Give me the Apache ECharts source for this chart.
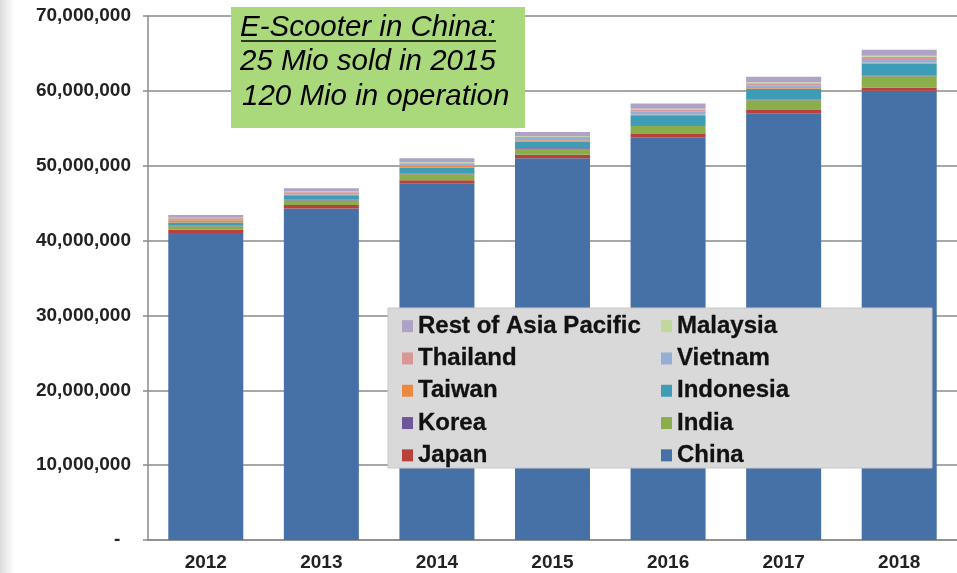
<!DOCTYPE html>
<html>
<head>
<meta charset="utf-8">
<script src="https://cdn.jsdelivr.net/npm/echarts@6/dist/echarts.min.js"></script>
<style>
html,body{margin:0;padding:0;background:#fff;}
#c{width:957px;height:573px;}
</style>
</head>
<body>
<div id="c"></div>
<script>
// Values in millions of units
const years = ['2012', '2013', '2014', '2015', '2016', '2017', '2018'];
const china     = [41.0, 44.3, 47.6, 51.0, 53.8, 57.0, 60.0];
const japan     = [0.45, 0.45, 0.45, 0.45, 0.45, 0.45, 0.45];
const india     = [0.45, 0.60, 0.80, 0.80, 1.10, 1.30, 1.50];
const korea     = [0.10, 0.10, 0.10, 0.10, 0.10, 0.10, 0.10];
const indonesia = [0.40, 0.50, 0.80, 0.90, 1.20, 1.40, 1.60];
const taiwan    = [0.30, 0.20, 0.20, 0.15, 0.15, 0.10, 0.10];
const vietnam   = [0.20, 0.25, 0.30, 0.30, 0.40, 0.40, 0.50];
const thailand  = [0.10, 0.10, 0.10, 0.15, 0.25, 0.25, 0.30];
const malaysia  = [0.05, 0.05, 0.10, 0.10, 0.15, 0.15, 0.15];
const restAP    = [0.35, 0.45, 0.55, 0.55, 0.70, 0.75, 0.80];
const yTicks = [0, 10, 20, 30, 40, 50, 60, 70];

const seriesDefs = [
  ['China', china, '#4571a7'],
  ['Japan', japan, '#b8413e'],
  ['India', india, '#8bae4d'],
  ['Korea', korea, '#6f5599'],
  ['Indonesia', indonesia, '#3f9cb6'],
  ['Taiwan', taiwan, '#e98a40'],
  ['Vietnam', vietnam, '#94afd3'],
  ['Thailand', thailand, '#d99896'],
  ['Malaysia', malaysia, '#c2d79c'],
  ['Rest of Asia Pacific', restAP, '#aea3c7']
];

const chart = echarts.init(document.getElementById('c'), null, {renderer: 'canvas'});
const legendText = {fontFamily: 'Liberation Sans', fontWeight: 'bold', fontSize: 24, color: '#111', lineHeight: 22,
  textBorderColor: '#111', textBorderWidth: 0.3};
const option = {
  animation: false,
  backgroundColor: '#ffffff',
  grid: {left: 148, top: 16, width: 817, height: 524},
  xAxis: {
    type: 'category',
    data: years,
    axisLine: {lineStyle: {color: '#8a8a8a', width: 1.5}},
    axisTick: {show: false},
    axisLabel: {fontFamily: 'Liberation Sans', fontWeight: 'bold', fontSize: 19, color: '#222', margin: 13}
  },
  yAxis: {
    type: 'value',
    min: yTicks[0], max: yTicks[yTicks.length - 1], interval: 10,
    axisLine: {show: true, lineStyle: {color: '#8a8a8a', width: 1.5}},
    axisTick: {show: true, length: 5, lineStyle: {color: '#8a8a8a', width: 1.5}},
    splitLine: {lineStyle: {color: '#8a8a8a', width: 1.5}},
    axisLabel: {
      fontFamily: 'Liberation Sans', fontWeight: 'bold', fontSize: 19, color: '#222', margin: 17,
      formatter: v => v === 0 ? '-  ' : (v * 1000000).toLocaleString('en-US')
    }
  },
  legend: [
    {
      orient: 'vertical', left: 402, top: 314, padding: 0, itemGap: 8,
      itemWidth: 11, itemHeight: 12, icon: 'rect', z: 20,
      data: ['Rest of Asia Pacific', 'Thailand', 'Taiwan', 'Korea', 'Japan'],
      textStyle: legendText
    },
    {
      orient: 'vertical', left: 661, top: 314, padding: 0, itemGap: 8,
      itemWidth: 11, itemHeight: 12, icon: 'rect', z: 20,
      data: ['Malaysia', 'Vietnam', 'Indonesia', 'India', 'China'],
      textStyle: legendText
    }
  ],
  graphic: [
    {type: 'rect', z: 0, shape: {x: 0, y: 0, width: 14, height: 573},
     style: {fill: new echarts.graphic.LinearGradient(0, 0, 1, 0, [{offset: 0, color: '#dcdcdc'}, {offset: 1, color: '#ffffff'}])}},
    {type: 'rect', z: 10, shape: {x: 388, y: 308, width: 544, height: 160},
     style: {fill: '#d9d9d9', stroke: '#c8c8c8', lineWidth: 1}},
    {type: 'rect', z: 10, shape: {x: 231, y: 7, width: 294, height: 121}, style: {fill: '#aad97b'}},
    {type: 'text', z: 11, left: 240, top: 13,
     style: {text: 'E-Scooter in China:', fontFamily: 'Liberation Sans', fontStyle: 'italic', fontSize: 29.5, fill: '#000'}},
    {type: 'line', z: 11, shape: {x1: 241, y1: 41, x2: 496, y2: 41}, style: {stroke: '#000', lineWidth: 1.5}},
    {type: 'text', z: 11, left: 240, top: 47,
     style: {text: '25 Mio sold in 2015', fontFamily: 'Liberation Sans', fontStyle: 'italic', fontSize: 29.5, fill: '#000'}},
    {type: 'text', z: 11, left: 242, top: 82,
     style: {text: '120 Mio in operation', fontFamily: 'Liberation Sans', fontStyle: 'italic', fontSize: 29.5, fill: '#000'}}
  ],
  series: seriesDefs.map(([name, data, color]) => ({
    name: name,
    type: 'bar',
    stack: 'total',
    barWidth: 75,
    data: data,
    itemStyle: {color: color},
    emphasis: {disabled: true}
  }))
};
chart.setOption(option);
</script>
</body>
</html>
